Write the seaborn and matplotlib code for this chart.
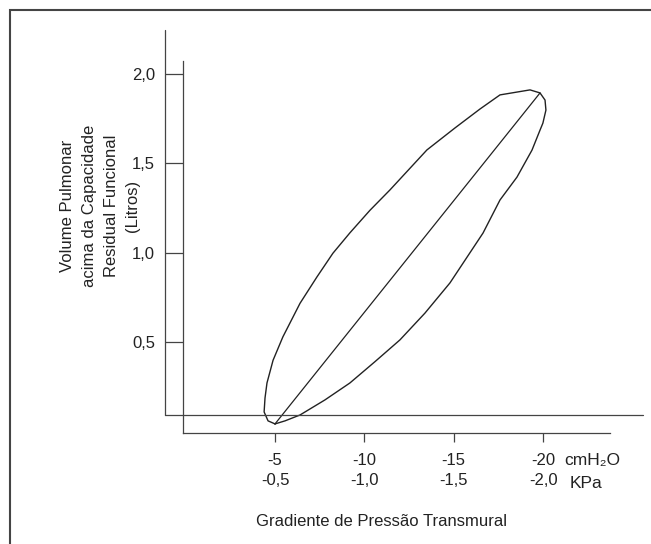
import numpy as np
import pandas as pd
import matplotlib
matplotlib.use("Agg")
import matplotlib.pyplot as plt
from matplotlib.patches import Rectangle
import seaborn as sns

# loop: pressure (cmH2O) and volume (L)
insp_pressure = [-5.00, -4.61, -4.39, -4.44, -4.55, -4.89, -5.44, -6.40, -7.35, -8.24, -9.19,
                 -10.31, -11.43, -13.50, -15.07, -16.47, -17.59, -19.27, -19.83]
insp_volume = [0.041, 0.058, 0.108, 0.186, 0.270, 0.397, 0.528, 0.716, 0.864, 0.996, 1.110,
               1.236, 1.350, 1.574, 1.697, 1.803, 1.882, 1.910, 1.893]
exp_pressure = [-19.83, -20.11, -20.16, -19.99, -19.83, -19.38, -18.54, -17.59, -16.64, -14.79,
                -13.39, -11.99, -10.59, -9.19, -7.79, -6.40, -5.56, -5.00]
exp_volume = [1.893, 1.853, 1.797, 1.724, 1.685, 1.573, 1.422, 1.294, 1.109, 0.830,
              0.661, 0.511, 0.389, 0.270, 0.175, 0.091, 0.058, 0.041]
diag_pressure = [-5.00, -19.83]
diag_volume = [0.041, 1.893]

y_ticks = [0.5, 1.0, 1.5, 2.0]
y_labels = ["0,5", "1,0", "1,5", "2,0"]
x_ticks = [-5, -10, -15, -20]
x_labels_cm = ["-5", "-10", "-15", "-20"]
x_labels_kpa = ["-0,5", "-1,0", "-1,5", "-2,0"]
ylabel_lines = ["Volume Pulmonar", "acima da Capacidade", "Residual Funcional", "(Litros)"]

sns.set_style("white")
plt.rcParams['font.family'] = ['Liberation Sans', 'DejaVu Sans']

fig = plt.figure(figsize=(6.51, 5.44), dpi=100)
ax = fig.add_axes([0, 0, 1, 1])
ax.patch.set_alpha(0)
ax.set_xlim(10.39, -26.04)
ax.set_ylim(-0.631, 2.413)

loop = pd.DataFrame({
    "p": insp_pressure + exp_pressure[1:],
    "v": insp_volume + exp_volume[1:],
})
sns.lineplot(data=loop, x="p", y="v", sort=False, estimator=None, color="#222222", lw=1.0, ax=ax)
sns.lineplot(x=diag_pressure, y=diag_volume, sort=False, estimator=None, color="#222222", lw=0.9, ax=ax)
ax.set_xlabel("")
ax.set_ylabel("")

# outer frame (baseline at FRC)
ax.plot([1.16, 1.16], [0.091, 2.245], color="#444444", lw=0.9)
ax.plot([1.16, -25.6], [0.091, 0.091], color="#444444", lw=0.9)

# inner axes
for s in ["top", "right"]:
    ax.spines[s].set_visible(False)
ax.spines["left"].set_position(("data", 0.15))
ax.spines["left"].set_bounds(-0.01, 2.07)
ax.spines["bottom"].set_position(("data", -0.0095))
ax.spines["bottom"].set_bounds(0.15, -23.75)
for s in ["left", "bottom"]:
    ax.spines[s].set_color("#444444")
    ax.spines[s].set_linewidth(0.9)

ax.set_yticks(y_ticks)
ax.set_yticklabels(y_labels)
ax.set_xticks(x_ticks)
ax.set_xticklabels([a + "\n" + b for a, b in zip(x_labels_cm, x_labels_kpa)], linespacing=1.45)
ax.tick_params(axis="y", direction="out", length=13, width=0.9, color="#444444",
               pad=7, labelsize=12, labelcolor="#222222", left=True)
ax.tick_params(axis="x", direction="out", length=6.5, width=0.9, color="#444444",
               pad=8, labelsize=12, labelcolor="#222222", bottom=True)

ax.text(-21.2, -0.165, "cmH\u2082O", fontsize=12.5, color="#222222", va="center", ha="left")
ax.text(-21.5, -0.29, "KPa", fontsize=12.5, color="#222222", va="center", ha="left")

ax.text(-10.95, -0.505, "Gradiente de Pressão Transmural", fontsize=12, color="#222222",
        ha="center", va="center")

# y label, one rotated line each
for xpos, line in zip([6.59, 5.36, 4.13, 2.95], ylabel_lines):
    ax.text(xpos, 1.26, line, fontsize=12, color="#222222", rotation=90,
            ha="center", va="center")

fig.patches.append(Rectangle((9.5 / 651, -0.1), 1.2, 1.1 - 9.5 / 544, transform=fig.transFigure,
                             fill=False, lw=1.5, ec="#444444"))

fig.savefig("out.png", dpi=100)
